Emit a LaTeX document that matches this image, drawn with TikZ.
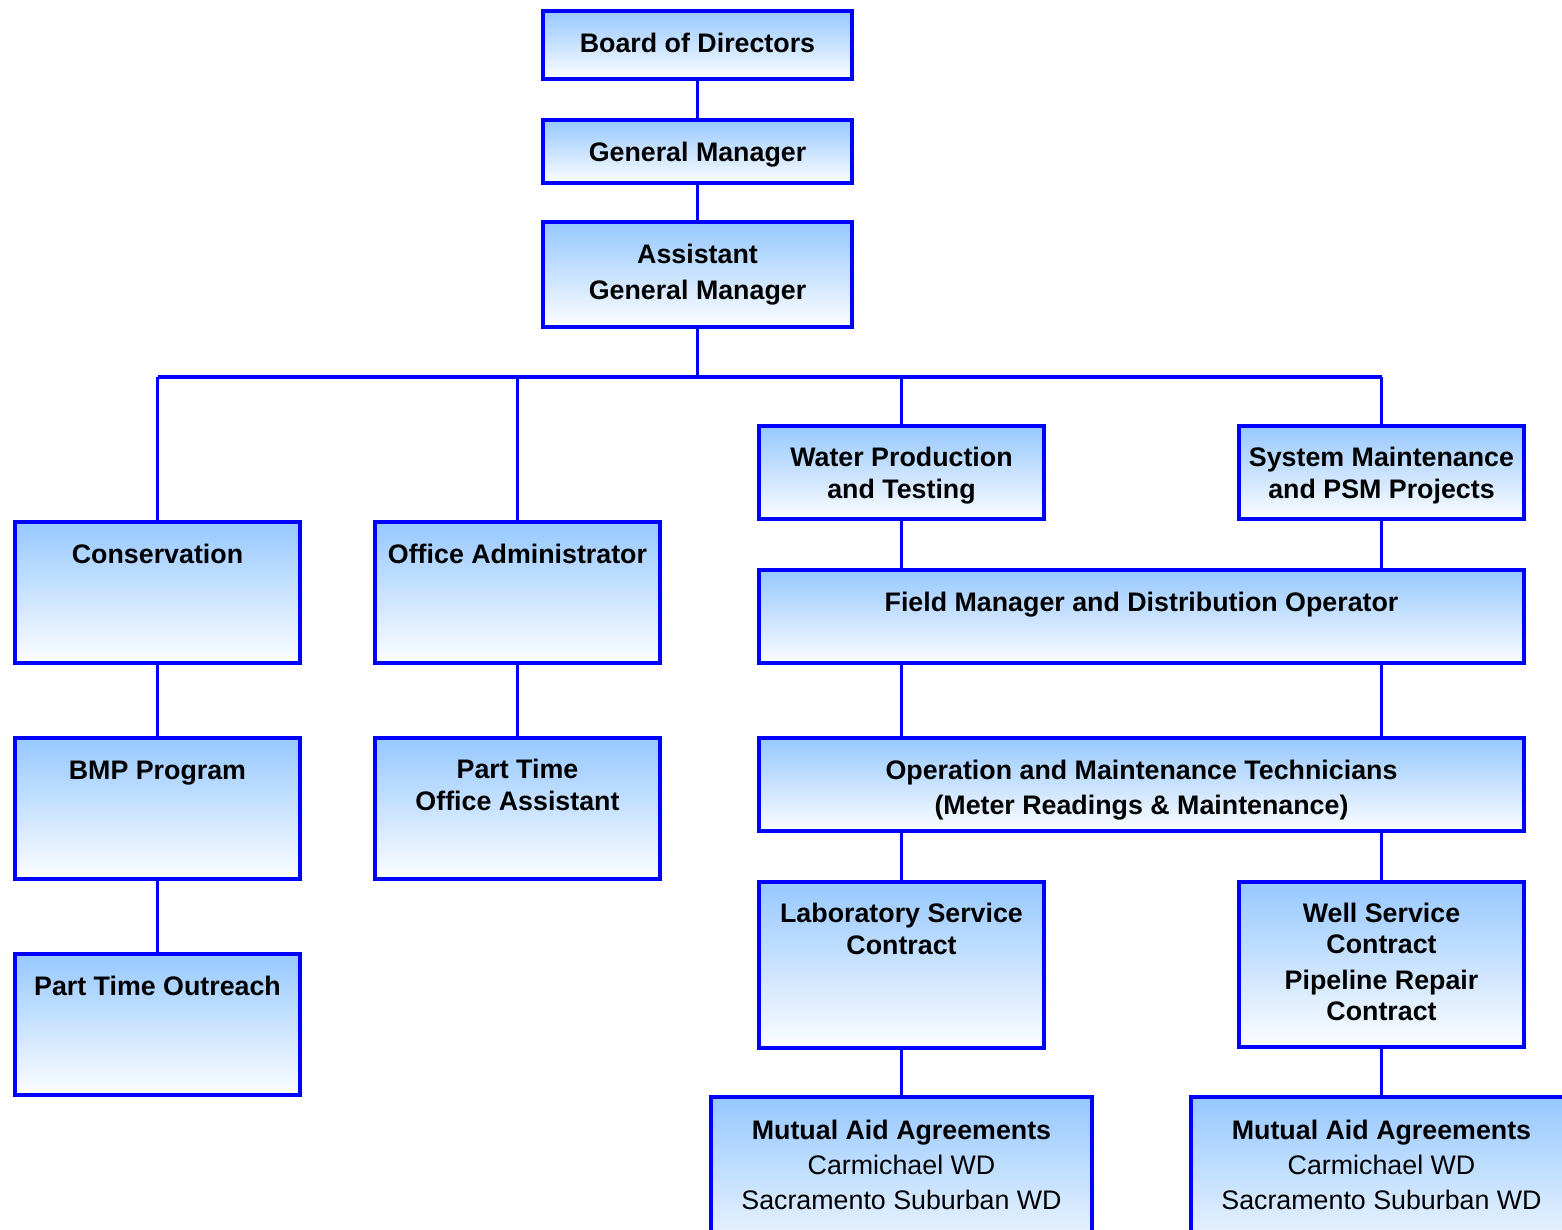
\documentclass[tikz,border=0pt]{standalone}
\usepackage{fontspec}
\setmainfont{Liberation Sans}
\definecolor{boxblue}{RGB}{0,0,255}
\definecolor{topblue}{RGB}{150,200,255}
\definecolor{botblue}{RGB}{252,253,255}
\tikzset{
  box/.style={draw=boxblue, line width=4pt, rectangle, inner sep=0pt, outer sep=0pt,
    top color=topblue, bottom color=botblue},
  conn/.style={draw=boxblue, line width=3.4pt},
  lbl/.style={anchor=base, inner sep=0pt, outer sep=0pt, align=center,
    font=\fontsize{26.8}{32}\selectfont\bfseries},
}
\newcommand{\twoline}[3]{\begin{tabular}[t]{@{}c@{}}#1\\[#3]#2\end{tabular}}
\begin{document}
\begin{tikzpicture}[x=1pt,y=-1pt]
\fill[white] (0,0) rectangle (1562,1230);
\clip (0,0) rectangle (1562,1230);
% boxes
\node[box, minimum width=309, minimum height=68]  (board) at (697.5,45) {};
\node[box, minimum width=309, minimum height=63]  (gm)    at (697.5,151.5) {};
\node[box, minimum width=309, minimum height=105] (agm)   at (697.5,274.5) {};
\node[box, minimum width=285, minimum height=141] (cons)  at (157.5,592.5) {};
\node[box, minimum width=285, minimum height=141] (oa)    at (517.5,592.5) {};
\node[box, minimum width=285, minimum height=93]  (wp)    at (901.5,472.5) {};
\node[box, minimum width=285, minimum height=93]  (sm)    at (1381.5,472.5) {};
\node[box, minimum width=765, minimum height=93]  (fm)    at (1141.5,616.5) {};
\node[box, minimum width=285, minimum height=141] (bmp)   at (157.5,808.5) {};
\node[box, minimum width=285, minimum height=141] (ptoa)  at (517.5,808.5) {};
\node[box, minimum width=765, minimum height=93]  (om)    at (1141.5,784.5) {};
\node[box, minimum width=285, minimum height=166] (lab)   at (901.5,965) {};
\node[box, minimum width=285, minimum height=165] (well)  at (1381.5,964.5) {};
\node[box, minimum width=285, minimum height=141] (pto)   at (157.5,1024.5) {};
\node[box, minimum width=381, minimum height=175] (maa)   at (901.5,1184.5) {};
\node[box, minimum width=381, minimum height=175] (mab)   at (1381.5,1184.5) {};
% labels
\node[lbl] (tboard) at (697.5,52.5) {Board of Directors};
\node[lbl] (tgm) at (697.5,161.5) {General Manager};
\node[lbl] (tagm) at (697.5,263.5) {\twoline{Assistant}{General Manager}{4pt}};
\node[lbl] (tcons) at (157.5,563.5) {Conservation};
\node[lbl] (toa) at (517.5,563.5) {Office Administrator};
\node[lbl] (twp) at (901.5,466.5) {\twoline{Water Production}{and Testing}{0pt}};
\node[lbl] (tsm) at (1381.5,466.5) {\twoline{System Maintenance}{and PSM Projects}{0pt}};
\node[lbl] (tfm) at (1141.5,611.5) {Field Manager and Distribution Operator};
\node[lbl] (tbmp) at (157.5,779.5) {BMP Program};
\node[lbl] (tptoa) at (517.5,778.5) {\twoline{Part Time}{Office Assistant}{0pt}};
\node[lbl] (tom) at (1141.5,779.5) {\twoline{Operation and Maintenance Technicians}{(Meter Readings \& Maintenance)}{3pt}};
\node[lbl] (tpto) at (157.5,995.5) {Part Time Outreach};
\node[lbl] (tlab) at (901.5,922.5) {\twoline{Laboratory Service}{Contract}{0pt}};
\node[lbl] (twell) at (1381.5,922.5) {\begin{tabular}[t]{@{}c@{}}Well Service\\[-1pt]Contract\\[4pt]Pipeline Repair\\[-1pt]Contract\end{tabular}};
\node[lbl] (tmaa) at (901.5,1139.5) {\begin{tabular}[t]{@{}c@{}}Mutual Aid Agreements\\[3pt]{\mdseries Carmichael WD}\\[3pt]{\mdseries Sacramento Suburban WD}\end{tabular}};
\node[lbl] (tmab) at (1381.5,1139.5) {\begin{tabular}[t]{@{}c@{}}Mutual Aid Agreements\\[3pt]{\mdseries Carmichael WD}\\[3pt]{\mdseries Sacramento Suburban WD}\end{tabular}};
% connectors
\coordinate (busL) at (157.5,377);
\coordinate (busR) at (1381.5,377);
\draw[conn] (board.south) -- (gm.north);
\draw[conn] (gm.south) -- (agm.north);
\draw[conn] (agm.south) -- (agm.south |- busL);
\draw[conn] (busL) -- (busR);
\draw[conn] (busL) -- (cons.north);
\draw[conn] (oa.north) -- (oa.north |- busL);
\draw[conn] (wp.north) -- (wp.north |- busL);
\draw[conn] (busR) -- (sm.north);
\draw[conn] (wp.south) -- (wp.south |- fm.north);
\draw[conn] (sm.south) -- (sm.south |- fm.north);
\draw[conn] (fm.south -| wp.south) -- (om.north -| wp.south);
\draw[conn] (fm.south -| sm.south) -- (om.north -| sm.south);
\draw[conn] (om.south -| lab.north) -- (lab.north);
\draw[conn] (om.south -| well.north) -- (well.north);
\draw[conn] (lab.south) -- (maa.north);
\draw[conn] (well.south) -- (mab.north);
\draw[conn] (cons.south) -- (bmp.north);
\draw[conn] (bmp.south) -- (pto.north);
\draw[conn] (oa.south) -- (ptoa.north);
\end{tikzpicture}
\end{document}
